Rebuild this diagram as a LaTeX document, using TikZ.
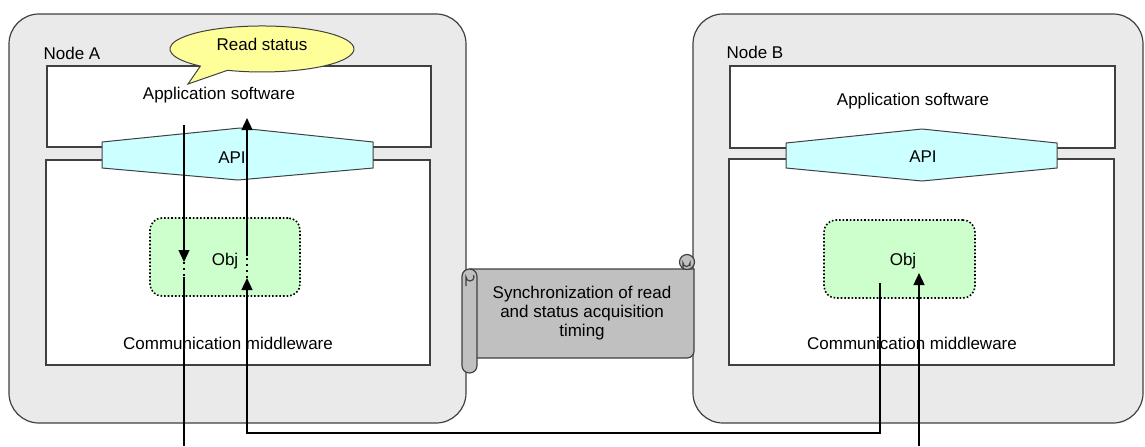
\documentclass[tikz,border=0pt]{standalone}
\usepackage{fontspec}
\setmainfont{Liberation Sans}
\usetikzlibrary{arrows.meta}
\definecolor{outerfill}{HTML}{EAEAEA}
\definecolor{edge}{HTML}{404040}
\definecolor{apifill}{HTML}{CCFFFF}
\definecolor{objfill}{HTML}{CCFFCC}
\definecolor{callfill}{HTML}{FFFF99}
\definecolor{scrollfill}{HTML}{C0C0C0}
\tikzset{
  outerbox/.style={draw=edge, fill=outerfill, line width=0.6pt, rounded corners=15pt, inner sep=0pt},
  layerbox/.style={draw=edge, fill=white, line width=0.6pt, inner sep=0pt},
  objbox/.style={draw=black, fill=objfill, line width=0.8pt, densely dotted, rounded corners=6pt, inner sep=0pt},
  apishape/.style={draw=edge, fill=apifill, line width=0.5pt},
  txt/.style={inner sep=0pt, font=\fontsize{8.5}{10}\selectfont},
  flow/.style={line width=1pt, -{Triangle[length=6pt,width=5.4pt]}},
  plain/.style={line width=1pt},
  dotseg/.style={line width=1pt, dotted},
  scrollpart/.style={draw=edge, fill=scrollfill, line width=0.6pt},
}
\begin{document}
\begin{tikzpicture}[x=0.5pt, y=-0.5pt]
\useasboundingbox (0,0) rectangle (1145,446);
% ---------- Node A ----------
\node[outerbox, minimum width=228.5pt, minimum height=204.5pt] (nodeA) at (237.5,218.5) {};
\node[txt] (labA) at (72,53) {Node A};
\node[layerbox, minimum width=192pt, minimum height=40.5pt] (appA) at (239,106.5) {};
\node[layerbox, minimum width=192pt, minimum height=102.5pt] (midA) at (238,262.5) {};
\draw[apishape] (102,142) -- (240,128) -- (373,142) -- (373,168) -- (238,180) -- (102,168) -- cycle;
\node[txt] (apiA) at (232,158) {API};
\node[txt] (appAtxt) at (219,95) {Application software};
\node[txt] (midAtxt) at (228,343) {Communication middleware};
\node[objbox, minimum width=75pt, minimum height=39pt] (objA) at (225,257) {};
\node[txt] (objAtxt) at (225,261) {Obj};
% callout
\draw[draw=edge, fill=callfill, line width=0.5pt] (188,84) -- (227.5,70.3)
  arc[start angle=112, end angle=-228, x radius=92, y radius=23] -- cycle;
\node[txt] (callA) at (262,44) {Read status};
% ---------- Node B ----------
\node[outerbox, minimum width=225pt, minimum height=204.5pt] (nodeB) at (918,218.5) {};
\node[txt] (labB) at (755,52) {Node B};
\node[layerbox, minimum width=192.5pt, minimum height=41pt] (appB) at (922.5,107) {};
\node[layerbox, minimum width=192.5pt, minimum height=103pt] (midB) at (921.5,262) {};
\draw[apishape] (786,143) -- (922,129) -- (1057,143) -- (1057,168) -- (922,181) -- (786,168) -- cycle;
\node[txt] (apiB) at (923,157) {API};
\node[txt] (appBtxt) at (913,101) {Application software};
\node[txt] (midBtxt) at (912,343) {Communication middleware};
\node[objbox, minimum width=75.5pt, minimum height=39pt] (objB) at (899.5,259) {};
\node[txt] (objBtxt) at (903,261) {Obj};
% ---------- Scroll ----------
\draw[scrollpart] (470,269) -- (694,269) -- (694,351) arc[start angle=0, end angle=90, radius=7] -- (470,358) -- cycle;
\draw[scrollpart] (687,262) circle[radius=7.5];
\draw[edge, line width=0.6pt] (683,269) -- (683,263) arc[start angle=180, end angle=0, radius=3.5] -- (690,266);
\draw[scrollpart, rounded corners=3.7pt] (462,269) rectangle (477,373);
\draw[edge, line width=0.6pt] (466,286) -- (466,277) arc[start angle=180, end angle=-30, radius=4];
\node[txt, align=center, font=\fontsize{8.5}{9.3}\selectfont] (sync) at (582,313) {Synchronization of read\\and status acquisition\\timing};
% ---------- Connectors ----------
\coordinate (a1) at (184,125);
\coordinate (a2) at (184,262);
\coordinate (a3) at (184,277);
\coordinate (a4) at (184,446);
\draw[flow] (a1) -- (a2);
\draw[dotseg] (a2) -- (a3);
\draw[plain] (a3) -- (a4);
\coordinate (b1) at (880,283);
\coordinate (b2) at (247,278);
\coordinate (b3) at (247,256);
\coordinate (b4) at (247,118);
\draw[flow] (b1) -- (880,433) -- (247,433) -- (b2);
\draw[dotseg] (b2) -- (b3);
\draw[flow] (b3) -- (b4);
\coordinate (c1) at (919,446);
\coordinate (c2) at (919,273);
\draw[flow] (c1) -- (c2);
\end{tikzpicture}
\end{document}
